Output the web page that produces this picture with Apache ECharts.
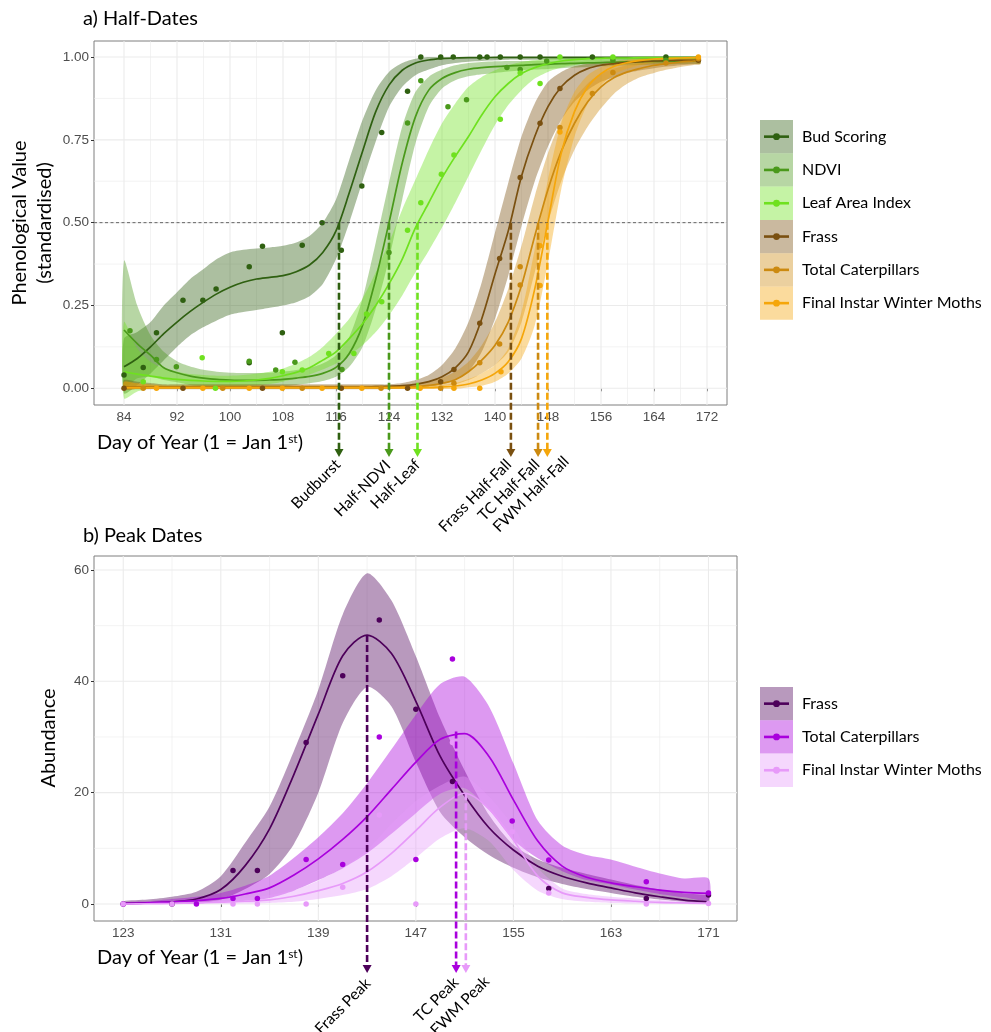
<!DOCTYPE html>
<html><head><meta charset="utf-8">
<script src="https://cdn.jsdelivr.net/npm/echarts@6/dist/echarts.min.js"></script>
<style>html,body{margin:0;padding:0;background:#fff}#c{width:991px;height:1032px}</style>
</head><body><div id="c"></div>
<script>
// ---------------- DATA : panel a (Half-Dates) ----------------
const A_DAYS = [84,86,88,90,92,94,96,98,100,102,104,106,108,110,112,114,116,118,120,122,124,126,128,130,132,134,136,138,140,142,144,146,148,150,152,154,156,158,160,162,164,166,168,170,171];

const BUD_FIT = [0.065,0.09,0.125,0.165,0.20,0.232,0.26,0.285,0.305,0.32,0.33,0.335,0.34,0.352,0.372,0.41,
  0.475,0.59,0.715,0.835,0.915,0.96,0.982,0.991,0.995,0.997,0.998,0.998,
  0.999,0.999,0.999,0.999,0.999,0.999,0.999,0.999,0.999,0.999,0.999,0.999,0.999,0.999,0.999,0.999,0.999];
const BUD_HI = [0.15,0.17,0.20,0.25,0.29,0.33,0.36,0.39,0.41,0.418,0.422,0.425,0.43,0.44,0.46,0.50,
  0.57,0.69,0.81,0.90,0.955,0.982,0.995,1.0,
  1.0,1.0,1.0,1.0,1.0,1.0,1.0,1.0,1.0,1.0,1.0,1.0,1.0,1.0,1.0,1.0,1.0,1.0,1.0,1.0,1.0];
const BUD_LO = [-0.015,0.01,0.045,0.085,0.125,0.16,0.185,0.205,0.222,0.23,0.236,0.243,0.25,0.26,0.278,0.315,
  0.39,0.50,0.625,0.745,0.849,0.91,0.945,0.962,0.975,0.982,0.986,0.988,0.99,
  0.992,0.992,0.992,0.992,0.992,0.992,0.992,0.992,0.992,0.992,0.992,0.992,0.992,0.992,0.992,0.992];

const NDVI_FIT = [0.176,0.135,0.10,0.062,0.047,0.037,0.031,0.027,0.025,0.024,0.024,0.025,0.027,0.031,0.036,0.045,0.063,
  0.105,0.19,0.33,0.50,0.68,0.82,0.90,0.935,0.953,0.963,0.968,0.971,0.973,0.975,0.977,0.978,0.98,0.981,0.982,0.983,0.984,0.985,0.986,0.987,0.987,0.988,0.988,0.988];
const NDVI_HI = [0.385,0.25,0.16,0.11,0.082,0.066,0.056,0.05,0.047,0.046,0.046,0.047,0.05,0.055,0.062,0.075,0.10,
  0.155,0.27,0.44,0.62,0.79,0.895,0.94,0.962,0.975,0.982,0.985,0.987,0.988,0.988,0.989,0.989,0.99,0.99,0.991,0.991,0.992,0.993,0.993,0.994,0.994,0.995,0.995,0.995];
const NDVI_LO = [0.0,0.03,0.035,0.025,0.018,0.01,0.006,0.004,0.003,0.002,0.002,0.003,0.006,0.01,0.015,0.022,0.035,
  0.065,0.125,0.24,0.39,0.57,0.74,0.85,0.905,0.93,0.942,0.948,0.952,0.956,0.96,0.962,0.964,0.966,0.968,0.97,0.972,0.973,0.975,0.976,0.977,0.978,0.979,0.98,0.98];

const LAI_FIT = [0.05,0.043,0.037,0.031,0.027,0.024,0.022,0.021,0.021,0.022,0.025,0.03,0.038,0.048,0.062,0.085,0.11,
  0.15,0.195,0.25,0.315,0.39,0.485,0.56,0.635,0.70,0.76,0.825,0.88,0.92,0.95,0.968,0.98,0.988,0.992,0.995,0.996,0.997,0.997,0.998,0.998,0.998,0.998,0.998,0.998];
const LAI_HI = [0.20,0.12,0.08,0.06,0.05,0.043,0.04,0.038,0.038,0.04,0.044,0.05,0.06,0.075,0.095,0.125,0.165,
  0.21,0.27,0.35,0.44,0.54,0.63,0.72,0.80,0.86,0.91,0.94,0.96,0.975,0.985,0.99,0.995,0.998,
  1.0,1.0,1.0,1.0,1.0,1.0,1.0,1.0,1.0,1.0,1.0];
const LAI_LO = [-0.03,-0.01,0.0,0.005,0.006,0.006,0.006,0.006,0.006,0.007,0.009,0.013,0.02,0.03,0.042,0.057,0.075,
  0.10,0.13,0.17,0.22,0.28,0.35,0.415,0.485,0.56,0.64,0.72,0.795,0.855,0.90,0.935,0.955,0.968,0.976,0.982,0.986,0.989,0.99,0.991,0.992,0.992,0.993,0.993,0.993];

const FRA_FIT = [0.004,0.004,0.004,0.004,0.004,0.004,0.004,0.004,0.004,0.004,0.004,0.004,0.004,0.004,0.004,0.004,0.004,0.004,0.004,
  0.005,0.006,0.008,0.012,0.02,0.035,0.062,0.11,0.21,0.345,0.475,0.64,0.76,0.85,0.91,0.945,0.965,0.975,0.98,0.984,0.986,0.988,0.989,0.99,0.99,0.99];
const FRA_HI = [0.025,0.02,0.016,
  0.012,0.012,0.012,0.012,0.012,0.012,0.012,0.012,0.012,0.012,0.012,0.012,0.012,0.012,0.012,0.012,0.012,0.012,
  0.016,0.025,0.04,0.07,0.12,0.20,0.32,0.47,0.62,0.76,0.86,0.925,0.955,0.972,0.98,0.985,0.988,0.99,0.991,0.992,0.993,0.994,0.995,0.995];
const FRA_LO = [-0.003,-0.003,-0.003,-0.003,-0.003,-0.003,-0.003,-0.003,-0.003,-0.003,-0.003,-0.003,-0.003,-0.003,-0.003,-0.003,-0.003,-0.003,-0.003,-0.003,-0.003,
  0.0,0.003,0.006,0.012,0.025,0.05,0.11,0.21,0.34,0.49,0.625,0.73,0.81,0.865,0.90,0.925,0.94,0.952,0.96,0.966,0.971,0.975,0.978,0.98];

const TC_FIT = [0.003,0.003,0.003,0.003,0.003,0.003,0.003,0.003,0.003,0.003,0.003,0.003,0.003,0.003,0.003,0.003,0.003,0.003,0.003,0.003,0.003,0.003,
  0.005,0.009,0.015,0.026,0.05,0.085,0.13,0.20,0.31,0.46,0.60,0.715,0.80,0.865,0.91,0.938,0.955,0.966,0.975,0.98,0.985,0.988,0.99];
const TC_HI = [0.02,0.015,0.012,
  0.009,0.009,0.009,0.009,0.009,0.009,0.009,0.009,0.009,0.009,0.009,0.009,0.009,0.009,0.009,0.009,0.009,0.009,0.009,
  0.012,0.02,0.032,0.05,0.08,0.13,0.20,0.30,0.43,0.58,0.71,0.81,0.875,0.92,0.95,0.965,0.975,0.982,0.987,0.99,0.992,0.993,0.994];
const TC_LO = [-0.002,-0.002,-0.002,-0.002,-0.002,-0.002,-0.002,-0.002,-0.002,-0.002,-0.002,-0.002,-0.002,-0.002,-0.002,-0.002,-0.002,-0.002,-0.002,-0.002,-0.002,-0.002,-0.002,
  0.002,0.006,0.012,0.025,0.045,0.07,0.11,0.20,0.35,0.50,0.625,0.72,0.79,0.845,0.89,0.92,0.94,0.952,0.962,0.97,0.976,0.978];

const FWM_FIT = [0.002,0.002,0.002,0.002,0.002,0.002,0.002,0.002,0.002,0.002,0.002,0.002,0.002,0.002,0.002,0.002,0.002,0.002,0.002,0.002,0.002,0.002,0.002,0.002,
  0.004,0.007,0.013,0.025,0.045,0.08,0.15,0.30,0.505,0.71,0.835,0.91,0.95,0.972,0.983,0.99,0.994,0.996,0.997,0.998,0.998];
const FWM_HI = [0.02,0.015,0.01,
  0.007,0.007,0.007,0.007,0.007,0.007,0.007,0.007,0.007,0.007,0.007,0.007,0.007,0.007,0.007,0.007,0.007,0.007,0.007,0.007,0.007,
  0.01,0.016,0.028,0.045,0.07,0.12,0.23,0.42,0.63,0.80,0.895,0.945,0.97,0.985,0.992,0.996,0.999,1.0,1.0,1.0,1.0];
const FWM_LO = [-0.002,-0.002,-0.002,-0.002,-0.002,-0.002,-0.002,-0.002,-0.002,-0.002,-0.002,-0.002,-0.002,-0.002,-0.002,-0.002,-0.002,-0.002,-0.002,-0.002,-0.002,-0.002,-0.002,-0.002,-0.002,-0.002,
  0.003,0.008,0.02,0.045,0.09,0.19,0.38,0.60,0.76,0.86,0.915,0.948,0.965,0.976,0.983,0.987,0.99,0.992,0.993];

const BUD_PTS = [[84.0,0.04],[86.9,0.063],[88.9,0.168],[92.9,0.266],[95.9,0.266],[97.9,0.30],[102.9,0.367],[102.9,0.077],[104.9,0.429],[107.9,0.168],[110.9,0.432],[113.9,0.50],[116.8,0.417],[119.9,0.611],[122.9,0.772],[126.8,0.897],[128.8,1.0],[131.8,1.0],[133.7,1.0],[137.7,1.0],[138.8,1.0],[140.8,1.0],[143.8,1.0],[146.8,1.0],[154.7,1.0],[165.8,1.0]];
const NDVI_PTS = [[84.9,0.174],[88.9,0.087],[91.9,0.065],[102.9,0.082],[106.9,0.055],[109.8,0.079],[116.9,0.057],[124.0,0.41],[126.8,0.801],[128.8,0.928],[132.9,0.85],[135.7,0.871],[141.8,0.968],[143.8,0.962],[147.8,0.988],[157.8,0.99],[165.8,0.99]];
const LAI_PTS = [[86.9,0.02],[95.8,0.092],[97.8,0.0],[107.9,0.05],[110.9,0.055],[114.9,0.105],[118.7,0.105],[120.6,0.224],[122.9,0.261],[126.8,0.477],[128.8,0.56],[131.9,0.646],[133.8,0.704],[140.8,0.812],[143.8,0.952],[146.8,0.92],[149.8,1.0],[157.8,1.0]];
const FRA_PTS = [[84.0,0.0],[92.9,0.0],[104.9,0.0],[116.8,0.0],[126.8,0.0],[131.8,0.02],[133.8,0.057],[137.7,0.196],[140.7,0.392],[143.8,0.636],[146.8,0.80],[149.8,0.905],[170.7,0.99]];
const TC_PTS = [[86.9,0.0],[98.9,0.0],[110.9,0.0],[122.8,0.0],[131.8,0.0],[133.8,0.015],[137.7,0.077],[140.7,0.134],[143.8,0.367],[143.8,0.312],[149.8,0.787],[154.7,0.89],[157.8,0.953],[165.8,0.982],[170.7,0.995]];
const FWM_PTS = [[88.9,0.0],[95.9,0.0],[102.9,0.0],[107.9,0.0],[113.9,0.0],[119.9,0.0],[128.7,0.0],[133.8,0.0],[137.7,0.0],[140.9,0.05],[146.8,0.43],[146.8,0.31],[149.8,0.774],[170.7,1.0]];

const A_NAMES = ['Bud Scoring','NDVI','Leaf Area Index','Frass','Total Caterpillars','Final Instar Winter Moths'];
const HALF_DATES = [116.45,124.0,128.3,142.4,146.5,147.9];
const HALF_LEVEL = 0.5;
const HALF_LABELS = ['Budburst','Half-NDVI','Half-Leaf','Frass Half-Fall','TC Half-Fall','FWM Half-Fall'];
const A_X_TICKS = [84,92,100,108,116,124,132,140,148,156,164,172];
const A_X_MINOR = [88,96,104,112,120,128,136,144,152,160,168];
const A_Y_TICKS = [0,0.25,0.5,0.75,1];
const A_Y_MINOR = [0.125,0.375,0.625,0.875];

// ---------------- DATA : panel b (Peak Dates) ----------------
const B_DAYS = [123,125,127,129,131,133,135,137,139,141,143,145,147,149,151,153,155,157,159,161,163,165,167,169,171];
const BF_FIT = [0.1,0.2,0.4,0.9,2.6,6.9,13.5,23.3,34.1,44.6,48.3,45.0,36.4,26.5,19.5,13.7,9.7,6.8,5.0,3.8,2.9,2.0,1.3,0.7,0.4];
const BF_HI  = [0.5,0.8,1.3,2.2,5.0,11.0,17.5,27.5,38.5,52.0,59.4,54.5,44.5,33.3,24.0,16.0,10.6,8.0,6.5,5.4,4.4,3.4,2.6,1.9,1.5];
const BF_LO  = [0,0,0.1,0.1,0.8,2.7,5.4,10.8,20.0,32.5,39.0,35.5,25.5,16.5,12.0,8.8,6.5,4.8,3.6,2.7,2.0,1.3,0.8,0.4,0.1];
const BT_FIT = [0.1,0.2,0.4,0.6,1.0,1.8,2.9,5.2,8.1,11.6,15.7,20.6,25.5,29.6,30.6,26.5,18.7,11.3,6.8,4.8,3.8,3.1,2.5,2.1,1.9];
const BT_HI  = [0.3,0.5,0.9,1.3,2.0,3.3,5.1,8.3,12.0,16.3,21.7,27.8,34.0,39.5,40.8,35.5,25.3,15.0,10.5,8.8,8.0,6.7,5.5,4.6,4.6];
const BT_LO  = [0,0,0.05,0.1,0.3,0.6,1.1,2.4,4.3,6.4,9.1,12.6,16.3,19.8,20.8,16.9,11.5,8.2,5.9,4.3,3.5,2.6,1.8,1.2,0.7];
const BW_FIT = [0,0.05,0.1,0.2,0.35,0.5,0.75,1.4,2.4,3.7,5.8,9.1,13.2,17.4,19.9,17.1,11.5,5.0,2.0,1.2,0.75,0.5,0.3,0.2,0.1];
const BW_HI  = [0.1,0.2,0.35,0.55,0.8,1.1,1.6,2.5,4.2,6.5,9.7,14.4,18.5,21.3,22.9,19.3,13.9,6.5,2.8,1.8,1.3,1.0,0.7,0.5,0.4];
const BW_LO  = [0,0,0,0.02,0.05,0.1,0.2,0.4,0.9,1.6,2.7,5.0,8.3,11.8,13.6,11.3,6.1,2.4,0.9,0.4,0.2,0.1,0.05,0,0];

const BF_PTS = [[123,0],[127,0],[132,6.0],[134,6.0],[138,29],[141,41],[144,51],[147,35],[150,22],[157.9,2.8],[165.9,1.0],[171,1.6]];
const BT_PTS = [[123,0],[129,0],[132,1.0],[134,1.0],[138,8.0],[141,7.1],[144,30],[147,8],[150,44],[154.9,14.9],[157.9,7.9],[165.9,4.0],[171,2.0]];
const BW_PTS = [[123,0],[127,0],[132,0],[134,0],[138,0],[141,3.0],[144,16],[147,0],[150,29],[154.9,13.0],[157.9,2.0],[165.9,0],[171,0.1]];

const B_NAMES = ['Frass','Total Caterpillars','Final Instar Winter Moths'];
const PEAK_DATES = [143.0,150.3,151.1];
const PEAK_VALUES = [48.3,31.0,19.9];
const PEAK_LABELS = ['Frass Peak','TC Peak','FWM Peak'];
const B_X_TICKS = [123,131,139,147,155,163,171];
const B_X_MINOR = [127,135,143,151,159,167];
const B_Y_TICKS = [0,20,40,60];
const B_Y_MINOR = [10,30,50];

// ---------------- STYLE ----------------
const A_LINE = ['#2f6011','#4a991b','#6fe11f','#7a5010','#cc8a10','#f5a60a'];
const A_FILL = ['rgba(47,96,17,0.4)','rgba(74,153,27,0.4)','rgba(111,225,31,0.4)','rgba(122,80,16,0.4)','rgba(204,138,16,0.4)','rgba(245,166,10,0.4)'];
const B_LINE = ['#4d005a','#a900dd','#e79af9'];
const B_FILL = ['rgba(77,0,90,0.4)','rgba(169,0,221,0.4)','rgba(231,154,249,0.4)'];
const A_LABEL_OFF = [[-1,5],[-1,6],[0,5],[-2,5],[-1,5],[19,2]];
const B_LABEL_OFF = [[1,8],[0,7],[21,6]];
const FONT = 'Lato, "Noto Sans", sans-serif';
const TICK_FONT = '"Liberation Sans", Arial, sans-serif';

// ---------------- BUILD ----------------
const chart = echarts.init(document.getElementById('c'));
const series = [];

function gridSeries(ai, xMaj, xMin, yMaj, yMin) {
  const xRef = xMaj[0], yRef = yMaj[0];
  const data = [];
  xMaj.forEach(v => data.push([v, yRef, 0, 1]));
  xMin.forEach(v => data.push([v, yRef, 0, 0]));
  yMaj.forEach(v => data.push([xRef, v, 1, 1]));
  yMin.forEach(v => data.push([xRef, v, 1, 0]));
  return {type:'custom', xAxisIndex:ai, yAxisIndex:ai, silent:true, z:1, data, encode:{x:0, y:1},
    renderItem(params, api) {
      const cs = params.coordSys;
      const p = api.coord([api.value(0), api.value(1)]);
      const style = {stroke:'#ebebeb', lineWidth: api.value(3) === 1 ? 1.1 : 0.6, fill:null};
      if (api.value(2) === 0) return {type:'line', shape:{x1:p[0], y1:cs.y, x2:p[0], y2:cs.y + cs.height}, style};
      return {type:'line', shape:{x1:cs.x, y1:p[1], x2:cs.x + cs.width, y2:p[1]}, style};
    }};
}

function bandSeries(ai, days, lo, hi, fill) {
  const data = days.map((d, j) => [d, lo[j], hi[j]]);
  return {type:'custom', xAxisIndex:ai, yAxisIndex:ai, silent:true, z:2, data, encode:{x:0, y:[1,2]},
    renderItem(params, api) {
      if (params.dataIndex !== 0) return null;
      const up = data.map(p => api.coord([p[0], p[2]]));
      const dn = data.map(p => api.coord([p[0], p[1]])).reverse();
      return {type:'polygon', shape:{points: up.concat(dn), smooth:0.25}, style:{fill}};
    }};
}

function addGroup(ai, days, fit, lo, hi, pts, line, fill) {
  series.push(bandSeries(ai, days, lo, hi, fill));
  series.push({type:'line', xAxisIndex:ai, yAxisIndex:ai, silent:true, z:3,
    data: days.map((d, j) => [d, fit[j]]), symbol:'none', smooth:0.3, lineStyle:{color:line, width:1.7}});
  series.push({type:'scatter', xAxisIndex:ai, yAxisIndex:ai, silent:true, z:4,
    data: pts, symbolSize:5.5, itemStyle:{color:line, opacity:1}});
}

function arrowSeries(ai, xs, ys, labels, colors, offs, gap) {
  return {type:'custom', xAxisIndex:ai, yAxisIndex:ai, silent:true, z:6, clip:false,
    data: xs.map((x, i) => [x, ys[i]]), encode:{x:0, y:1},
    renderItem(params, api) {
      const i = params.dataIndex;
      const cs = params.coordSys;
      const p = api.coord([api.value(0), api.value(1)]);
      const tipY = cs.y + cs.height + gap;
      const col = colors[i];
      const hh = 8, hw = 4.5;
      return {type:'group', children:[
        {type:'line', shape:{x1:p[0], y1:p[1], x2:p[0], y2:tipY - hh + 1},
          style:{stroke:col, lineWidth:2.6, lineDash:[7,3], fill:null}},
        {type:'polygon', shape:{points:[[p[0]-hw, tipY-hh],[p[0]+hw, tipY-hh],[p[0], tipY]]}, style:{fill:col}},
        {type:'text', x:p[0] + offs[i][0], y:tipY + offs[i][1], rotation:Math.PI/4,
          style:{text:labels[i], fill:'#000', font:'15.5px ' + FONT, align:'right', verticalAlign:'middle', textAlign:'right', textVerticalAlign:'middle'}}
      ]};
    }};
}

series.push(gridSeries(0, A_X_TICKS, A_X_MINOR, A_Y_TICKS, A_Y_MINOR));
series.push(gridSeries(1, B_X_TICKS, B_X_MINOR, B_Y_TICKS, B_Y_MINOR));

addGroup(0, A_DAYS, BUD_FIT, BUD_LO, BUD_HI, BUD_PTS, A_LINE[0], A_FILL[0]);
addGroup(0, A_DAYS, NDVI_FIT, NDVI_LO, NDVI_HI, NDVI_PTS, A_LINE[1], A_FILL[1]);
addGroup(0, A_DAYS, LAI_FIT, LAI_LO, LAI_HI, LAI_PTS, A_LINE[2], A_FILL[2]);
addGroup(0, A_DAYS, FRA_FIT, FRA_LO, FRA_HI, FRA_PTS, A_LINE[3], A_FILL[3]);
addGroup(0, A_DAYS, TC_FIT, TC_LO, TC_HI, TC_PTS, A_LINE[4], A_FILL[4]);
addGroup(0, A_DAYS, FWM_FIT, FWM_LO, FWM_HI, FWM_PTS, A_LINE[5], A_FILL[5]);

addGroup(1, B_DAYS, BF_FIT, BF_LO, BF_HI, BF_PTS, B_LINE[0], B_FILL[0]);
addGroup(1, B_DAYS, BT_FIT, BT_LO, BT_HI, BT_PTS, B_LINE[1], B_FILL[1]);
addGroup(1, B_DAYS, BW_FIT, BW_LO, BW_HI, BW_PTS, B_LINE[2], B_FILL[2]);

// reference line at 0.5 (panel a)
series.push({type:'custom', xAxisIndex:0, yAxisIndex:0, silent:true, z:5,
  data:[[A_X_TICKS[0], HALF_LEVEL]], encode:{x:0, y:1},
  renderItem(params, api) {
    const cs = params.coordSys;
    const p = api.coord([api.value(0), api.value(1)]);
    return {type:'line', shape:{x1:cs.x, y1:p[1], x2:cs.x + cs.width, y2:p[1]},
      style:{stroke:'#444', lineWidth:0.8, lineDash:[3,2.5], fill:null}};
  }});

series.push(arrowSeries(0, HALF_DATES, HALF_DATES.map(() => HALF_LEVEL), HALF_LABELS, A_LINE, A_LABEL_OFF, 52));
series.push(arrowSeries(1, PEAK_DATES, PEAK_VALUES, PEAK_LABELS, B_LINE, B_LABEL_OFF, 52));

function xAxisCfg(gi, min, max, ticks) {
  return {gridIndex:gi, type:'value', min, max, axisLine:{show:false}, splitLine:{show:false},
    axisTick:{show:true, customValues:ticks, length:3, lineStyle:{color:'#333', width:1}},
    axisLabel:{customValues:ticks, color:'#4d4d4d', fontSize:13.5, fontFamily:TICK_FONT, margin:5}};
}
function yAxisCfg(gi, min, max, ticks, fmt) {
  return {gridIndex:gi, type:'value', min, max, axisLine:{show:false}, splitLine:{show:false},
    axisTick:{show:true, customValues:ticks, length:3, lineStyle:{color:'#333', width:1}},
    axisLabel:{customValues:ticks, color:'#4d4d4d', fontSize:13.5, fontFamily:TICK_FONT, margin:5, formatter:fmt}};
}

// legends & titles (graphic)
const graphic = [];
function legend(names, lines, fills, x0, y0, h) {
  names.forEach((n, i) => {
    const cy = y0 + i * h + h / 2;
    graphic.push({type:'rect', shape:{x:x0, y:y0 + i * h, width:33, height:h}, style:{fill:fills[i]}, silent:true});
    graphic.push({type:'line', shape:{x1:x0 + 4, y1:cy, x2:x0 + 29, y2:cy}, style:{stroke:lines[i], lineWidth:2.6}, silent:true});
    graphic.push({type:'circle', shape:{cx:x0 + 16.5, cy:cy, r:3.4}, style:{fill:lines[i]}, silent:true});
    graphic.push({type:'text', x:x0 + 42, y:cy, style:{text:n, fill:'#000', font:'16px ' + FONT, align:'left', verticalAlign:'middle'}, silent:true});
  });
}
legend(A_NAMES, A_LINE, A_FILL, 760, 120, 33.3);
legend(B_NAMES, B_LINE, B_FILL, 760, 687, 33.3);

function txt(t, x, y, size, rot, align) {
  graphic.push({type:'text', x, y, rotation:rot || 0, silent:true,
    style:{text:t, fill:'#000', font:size + 'px ' + FONT, align:align || 'left', verticalAlign:'middle'}});
}
txt('a) Half-Dates', 83, 19, 20);
txt('b) Peak Dates', 83, 536, 20);
txt('Phenological Value', 20, 223, 20, Math.PI / 2, 'center');
txt('(standardised)', 45, 223, 20, Math.PI / 2, 'center');
txt('Abundance', 49, 738, 20, Math.PI / 2, 'center');
function xTitle(y) {
  graphic.push({type:'text', x:97, y, silent:true,
    style:{text:'{a|Day of Year (1 = Jan 1}{s|st}{a|)}', fill:'#000', align:'left', verticalAlign:'middle',
      rich:{a:{fontSize:20, fontFamily:FONT, fill:'#000'}, s:{fontSize:12, fontFamily:FONT, fill:'#000', verticalAlign:'top'}}}});
}
xTitle(443);
xTitle(958);

chart.setOption({
  animation:false,
  backgroundColor:'#fff',
  grid:[
    {left:94, top:41, width:633, height:364, show:true, borderColor:'#7f7f7f', borderWidth:1, backgroundColor:'#fff'},
    {left:94, top:556, width:643, height:365, show:true, borderColor:'#7f7f7f', borderWidth:1, backgroundColor:'#fff'}
  ],
  xAxis:[xAxisCfg(0, 79.47, 175.02, A_X_TICKS), xAxisCfg(1, 120.6, 173.34, B_X_TICKS)],
  yAxis:[yAxisCfg(0, -0.0504, 1.0483, A_Y_TICKS, v => v.toFixed(2)), yAxisCfg(1, -3.05, 62.51, B_Y_TICKS, v => String(v))],
  series,
  graphic
});
</script></body></html>
